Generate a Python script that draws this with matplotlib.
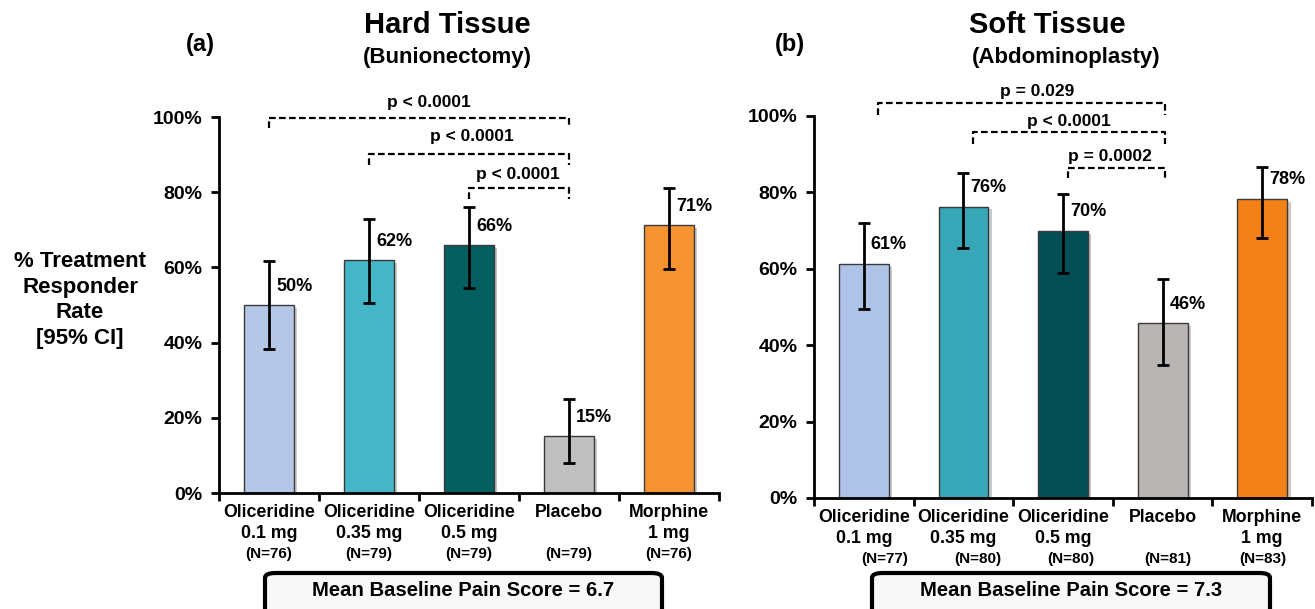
import matplotlib.pyplot as plt
import matplotlib.patheffects as pe
from matplotlib.patches import FancyBboxPatch

plt.rcParams['font.family'] = ['Liberation Sans', 'DejaVu Sans']
plt.rcParams['font.weight'] = 'bold'

# ---- data ----
cats = ['Oliceridine\n0.1 mg', 'Oliceridine\n0.35 mg', 'Oliceridine\n0.5 mg', 'Placebo\n', 'Morphine\n1 mg']

hard_vals = [50.0, 62.0, 66.0, 15.2, 71.2]
hard_lo = [38.3, 50.5, 54.5, 8.0, 59.6]
hard_hi = [61.7, 72.9, 76.1, 25.0, 81.1]
hard_lbl = ['50%', '62%', '66%', '15%', '71%']
hard_n = ['(N=76)', '(N=79)', '(N=79)', '(N=79)', '(N=76)']
hard_p = ['p < 0.0001', 'p < 0.0001', 'p < 0.0001']

soft_vals = [61.3, 76.3, 69.9, 45.7, 78.3]
soft_lo = [49.4, 65.5, 59.0, 34.8, 68.0]
soft_hi = [72.1, 85.2, 79.7, 57.3, 86.6]
soft_lbl = ['61%', '76%', '70%', '46%', '78%']
soft_n = ['(N=77)', '(N=80)', '(N=80)', '(N=81)', '(N=83)']
soft_p = ['p = 0.029', 'p < 0.0001', 'p = 0.0002']

hard_colors = ['#B4C7E7', '#45B5C8', '#045F61', '#C0C0C0', '#F79230']
soft_colors = ['#AFC2E8', '#37A6B6', '#034F55', '#B8B5B3', '#F38117']

fig = plt.figure(figsize=(13.15, 6.09), dpi=100)
ax1 = fig.add_axes([219/1315, 116/609, 500/1315, 376/609])
ax2 = fig.add_axes([814/1315, 111/609, 498/1315, 382/609])


def draw(ax, vals, lo, hi, lbls, ns, colors, n_off, brackets, plabels):
    x = list(range(len(vals)))
    bars = ax.bar(x, vals, width=0.5, color=colors, edgecolor='#3a3a3a', linewidth=1.0, zorder=2)
    for b in bars:
        b.set_path_effects([pe.SimplePatchShadow(offset=(2.5, -2), alpha=0.25), pe.Normal()])
    yerr = [[v - l for v, l in zip(vals, lo)], [h - v for v, h in zip(vals, hi)]]
    ax.errorbar(x, vals, yerr=yerr, fmt='none', ecolor='black', elinewidth=2,
                capsize=4, capthick=2, zorder=3)
    for xi, v, t in zip(x, vals, lbls):
        ax.text(xi + 0.07, v + 5, t, ha='left', va='center', fontsize=13, fontweight='bold')
    ax.set_xlim(-0.5, 4.5)
    ax.set_ylim(0, 100)
    ax.set_yticks([0, 20, 40, 60, 80, 100])
    ax.set_yticklabels(['0%', '20%', '40%', '60%', '80%', '100%'], fontsize=14, fontweight='bold')
    ax.set_xticks(x)
    ax.set_xticklabels(cats, fontsize=12.8, fontweight='bold', linespacing=1.3)
    ax.set_xticks([-0.5, 0.5, 1.5, 2.5, 3.5, 4.5], minor=True)
    ax.tick_params(axis='x', which='major', length=0, pad=8)
    ax.tick_params(axis='x', which='minor', length=6, width=2)
    ax.tick_params(axis='y', length=6, width=2, pad=6)
    for s in ['top', 'right']:
        ax.spines[s].set_visible(False)
    for s in ['left', 'bottom']:
        ax.spines[s].set_linewidth(2)
    for xi, n, o in zip(x, ns, n_off):
        ax.annotate(n, (xi + o, 0), xytext=(0, -44), textcoords='offset points',
                    ha='center', va='center', fontsize=11, fontweight='bold',
                    annotation_clip=False)
    for (x0, x1, y, yl0, yl1), (px, py, pt) in zip(brackets, plabels):
        ax.plot([x0, x0, x1, x1], [yl0, y, y, yl1], color='black', lw=1.6,
                linestyle=(0, (3, 1.5)), clip_on=False, zorder=4)
        ax.text(px, py, pt, ha='center', va='center', fontsize=12.5, fontweight='bold',
                clip_on=False)


draw(ax1, hard_vals, hard_lo, hard_hi, hard_lbl, hard_n, hard_colors,
     [0, 0, 0, 0, 0],
     [(0, 3, 99.8, 97.0, 97.3), (1, 3, 90.2, 87.2, 87.2), (2, 3, 81.1, 78.2, 78.2)],
     [(1.6, 103.9, hard_p[0]), (2.03, 94.7, hard_p[1]), (2.49, 84.8, hard_p[2])])

draw(ax2, soft_vals, soft_lo, soft_hi, soft_lbl, soft_n, soft_colors,
     [0.21, 0.14, 0.08, 0.055, 0.01],
     [(0.14, 3.02, 103.4, 100.3, 100.3), (1.1, 3.02, 95.8, 92.7, 92.7), (2.05, 3.02, 86.4, 83.7, 83.7)],
     [(1.74, 106.3, soft_p[0]), (2.055, 98.5, soft_p[1]), (2.47, 89.4, soft_p[2])])

fig.text(80/1315, 1 - 300/609, '% Treatment\nResponder\nRate\n[95% CI]',
         ha='center', va='center', fontsize=16, fontweight='bold', linespacing=1.3)

# titles
fig.text(447/1315, 1 - 25/609, 'Hard Tissue', ha='center', va='center', fontsize=21, fontweight='bold')
fig.text(447/1315, 1 - 58/609, '(Bunionectomy)', ha='center', va='center', fontsize=16, fontweight='bold')
fig.text(200/1315, 1 - 44/609, '(a)', ha='center', va='center', fontsize=17, fontweight='bold')
fig.text(1047/1315, 1 - 25/609, 'Soft Tissue', ha='center', va='center', fontsize=21, fontweight='bold')
fig.text(1066/1315, 1 - 58/609, '(Abdominoplasty)', ha='center', va='center', fontsize=16, fontweight='bold')
fig.text(790/1315, 1 - 44/609, '(b)', ha='center', va='center', fontsize=17, fontweight='bold')

# baseline boxes
for x0, x1, txt in [(265, 662, 'Mean Baseline Pain Score = 6.7'),
                    (872, 1270, 'Mean Baseline Pain Score = 7.3')]:
    box = FancyBboxPatch((x0/1315, -20/609), (x1 - x0)/1315, (36 + 20)/609,
                         boxstyle='round,pad=0,rounding_size=0.008',
                         transform=fig.transFigure, facecolor='#F8F8F8',
                         edgecolor='black', linewidth=3, clip_on=False)
    fig.patches.append(box)
    fig.text((x0 + x1)/2/1315, 1 - 591/609, txt, ha='center', va='center',
             fontsize=14.6, fontweight='bold')

fig.savefig('out.png', dpi=100)
